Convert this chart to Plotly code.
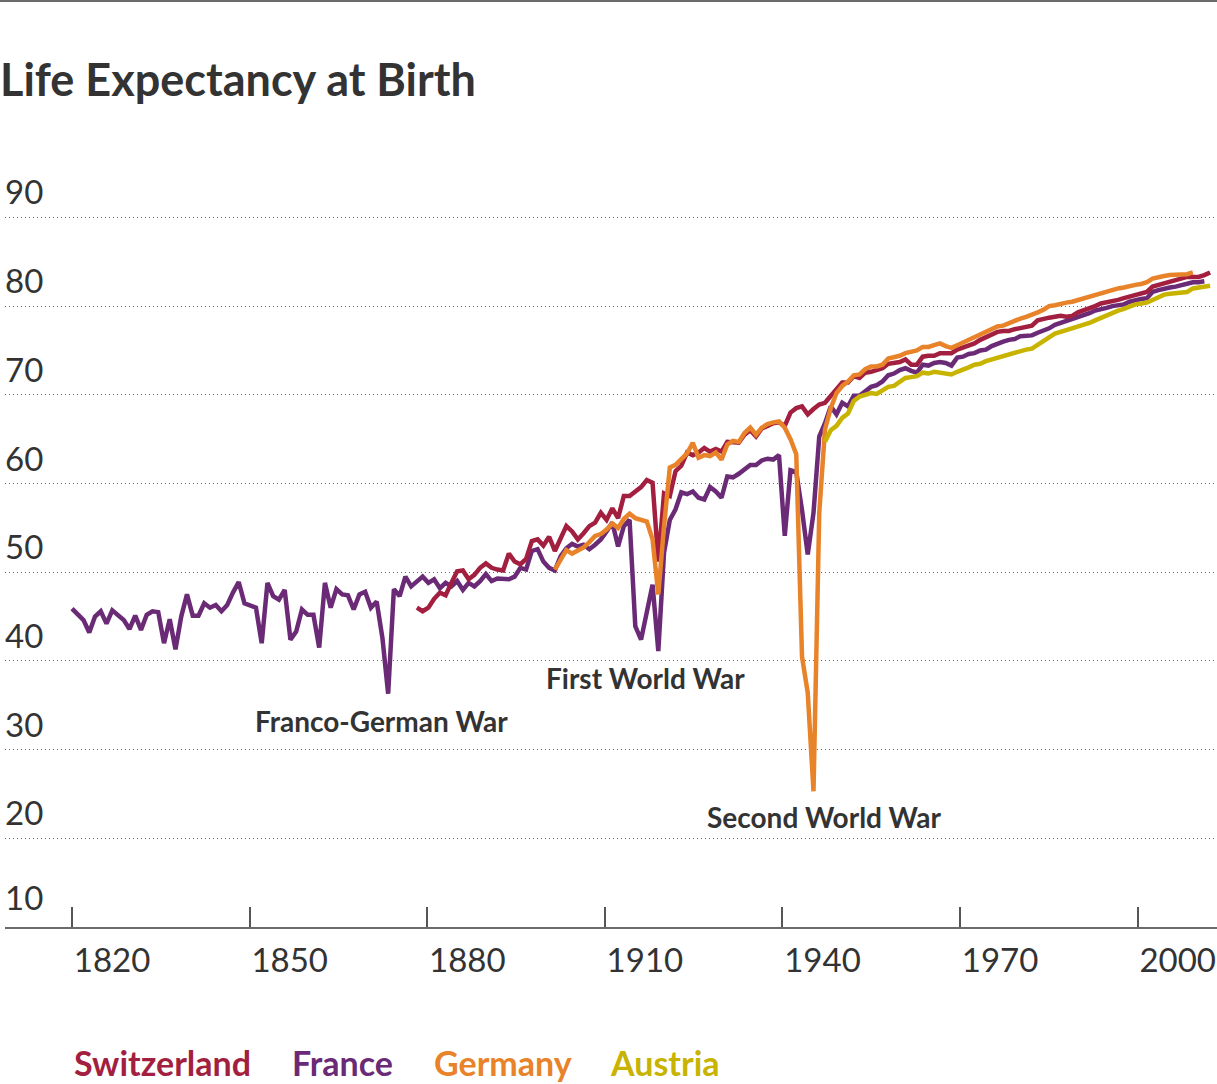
import plotly.graph_objects as go

# ---------------- data (life expectancy at birth, years) ----------------
FRANCE_START = 1816
FRANCE = [
    45.9, 45.2, 44.6, 43.2, 45.0, 45.6, 44.2, 45.7, 45.1, 44.6,
    43.6, 45.1, 43.5, 45.2, 45.6, 45.5, 42.0, 44.7, 41.3, 45.0,
    47.5, 45.1, 45.1, 46.5, 46.0, 46.3, 45.6, 46.3, 47.7, 48.9,
    46.5, 46.3, 46.0, 42.0, 48.8, 47.3, 46.9, 48.0, 42.4, 43.3,
    45.8, 45.2, 45.2, 41.5, 48.8, 46.0, 48.1, 47.5, 47.4, 45.8,
    47.5, 47.8, 46.0, 46.7, 42.6, 36.3, 48.1, 47.3, 49.5, 48.4,
    49.0, 49.5, 48.8, 49.2, 48.2, 48.8, 48.4, 49.0, 48.0, 48.8,
    48.4, 49.0, 49.8, 49.0, 49.3, 49.2, 49.2, 49.5, 50.5, 50.3,
    52.4, 52.6, 51.2, 50.5, 50.2, 51.8, 52.7, 53.2, 52.9, 53.1,
    52.6, 53.1, 53.7, 54.6, 55.6, 52.9, 55.2, 55.9, 43.9, 42.4,
    45.4, 48.6, 41.1, 52.2, 55.9, 57.1, 59.0, 58.8, 59.1, 58.4,
    58.2, 59.6, 59.1, 58.4, 60.8, 60.7, 61.1, 61.6, 62.1, 62.1,
    62.6, 62.8, 62.7, 63.2, 54.1, 61.5, 61.3, 57.0, 52.0, 56.7,
    65.3, 66.8, 68.7, 67.8, 69.1, 68.7, 69.9, 69.9, 70.4, 70.9,
    71.1, 71.5, 72.2, 72.4, 72.8, 73.0, 72.7, 72.5, 73.4, 73.3,
    73.6, 73.7, 73.6, 73.3, 74.2, 74.3, 74.6, 74.7, 75.0, 75.1,
    75.5, 75.8, 76.0, 76.2, 76.3, 76.6, 76.6, 76.7, 77.0, 77.2,
    77.5, 77.9, 78.1, 78.3, 78.5, 78.8, 79.0, 79.2, 79.5, 79.6,
    79.8, 80.0, 80.1, 80.2, 80.5, 80.7, 80.8, 80.9, 81.6, 81.8,
    82.0, 82.1, 82.2, 82.4, 82.6, 82.7, 82.7, 82.8,
]

SWITZERLAND_START = 1876
SWITZERLAND = [
    46.0, 45.6, 46.0, 47.0, 47.7, 47.4, 48.8, 50.1, 50.2, 49.2,
    49.7, 50.5, 51.0, 50.5, 50.3, 50.2, 52.1, 51.2, 50.9, 51.5,
    53.5, 53.7, 53.0, 54.0, 52.4, 53.9, 55.2, 54.6, 53.7, 54.4,
    55.2, 55.6, 56.7, 55.9, 57.2, 56.1, 58.6, 58.6, 59.1, 59.6,
    60.4, 60.1, 51.2, 58.9, 58.6, 61.4, 62.0, 63.5, 63.2, 63.5,
    64.0, 63.6, 63.9, 63.6, 64.7, 64.7, 64.6, 65.5, 66.0, 65.3,
    66.2, 66.5, 66.8, 66.9, 66.5, 68.0, 68.5, 68.7, 67.8, 68.4,
    68.9, 69.1, 69.9, 70.6, 71.4, 71.4, 72.1, 71.9, 72.5, 72.6,
    72.8, 73.0, 73.5, 73.6, 73.7, 74.0, 73.4, 73.4, 74.3, 74.4,
    74.4, 74.7, 74.7, 74.7, 75.1, 75.3, 75.5, 75.8, 76.2, 76.5,
    76.8, 77.1, 77.2, 77.2, 77.4, 77.5, 77.6, 77.8, 78.4, 78.6,
    78.7, 78.8, 78.9, 78.8, 78.9, 79.3, 79.5, 79.8, 80.0, 80.3,
    80.4, 80.6, 80.7, 80.9, 81.1, 81.3, 81.5, 81.6, 82.2, 82.4,
    82.6, 82.7, 82.9, 83.1, 83.3, 83.3, 83.3, 83.5, 83.8,
]

GERMANY_START = 1900
GERMANY = [
    50.3, 51.4, 52.5, 52.1, 52.5, 52.8, 53.4, 54.1, 54.3, 54.8,
    55.5, 55.0, 56.0, 56.6, 56.1, 55.9, 55.7, 53.7, 47.5, 55.2,
    61.8, 62.1, 62.7, 63.4, 64.6, 62.9, 63.2, 63.1, 63.5, 62.7,
    64.4, 64.8, 64.7, 65.7, 66.3, 65.5, 66.3, 66.7, 66.9, 67.0,
    66.3, 65.0, 63.3, 40.5, 36.4, 25.3, 56.7, 66.1, 68.5, 70.2,
    71.0, 71.5, 72.2, 72.3, 72.9, 73.2, 73.2, 73.4, 74.1, 74.2,
    74.4, 74.7, 74.8, 75.0, 75.4, 75.4, 75.6, 75.8, 75.5, 75.3,
    75.6, 75.9, 76.2, 76.4, 76.8, 77.0, 77.3, 77.7, 77.8, 78.1,
    78.3, 78.6, 78.8, 79.0, 79.3, 79.6, 80.0, 80.1, 80.3, 80.4,
    80.5, 80.7, 80.9, 81.1, 81.3, 81.4, 81.6, 81.8, 82.0, 82.1,
    82.3, 82.4, 82.5, 82.7, 83.1, 83.3, 83.4, 83.5, 83.5, 83.5,
    83.6, 83.8,
]

AUSTRIA_START = 1947
AUSTRIA = [
    64.7, 66.0, 66.5, 67.4, 67.9, 69.3, 69.8, 70.0, 70.2, 70.1,
    70.5, 70.9, 71.0, 71.5, 71.9, 72.0, 72.1, 72.5, 72.4, 72.6,
    72.5, 72.3, 72.3, 72.6, 72.8, 73.1, 73.4, 73.5, 73.8, 74.0,
    74.2, 74.3, 74.5, 74.8, 75.0, 75.1, 75.2, 75.6, 76.0, 76.5,
    76.9, 77.1, 77.3, 77.5, 77.6, 77.9, 78.1, 78.4, 78.7, 79.0,
    79.3, 79.5, 79.7, 80.0, 80.2, 80.3, 80.4, 80.7, 81.0, 81.3,
    81.4, 81.5, 81.5, 81.6, 82.0, 82.1, 82.2, 82.3,
]

LEGEND_ORDER = ["Switzerland", "France", "Germany", "Austria"]
DRAW_ORDER = ["France", "Switzerland", "Germany", "Austria"]
COLORS = {
    "Switzerland": "#a31f3f",
    "France": "#6b2a76",
    "Germany": "#e8832a",
    "Austria": "#c8b400",
}

# axis ticks as drawn in the original graphic
X_TICK_POS = [1816.0, 1846.9, 1877.8, 1908.7, 1939.6, 1970.5, 2001.4]
X_TICK_TEXT = ["1820", "1850", "1880", "1910", "1940", "1970", "2000"]
Y_TICKS = [10, 20, 30, 40, 50, 60, 70, 80, 90]
Y_TICK_TEXT = ["10", "20", "30", "40", "50", "60", "70", "80", "90"]

EVENTS = [
    ("Franco-German War", 1869.9, 33.2),
    ("First World War", 1915.7, 38.1),
    ("Second World War", 1947.0, 22.4),
]

TITLE = "Life Expectancy at Birth"
FONT = "Lato, 'Open Sans', sans-serif"

series = {
    "France": (FRANCE_START, FRANCE),
    "Switzerland": (SWITZERLAND_START, SWITZERLAND),
    "Germany": (GERMANY_START, GERMANY),
    "Austria": (AUSTRIA_START, AUSTRIA),
}

fig = go.Figure()
for name in DRAW_ORDER:
    start, vals = series[name]
    years = list(range(start, start + len(vals)))
    fig.add_trace(go.Scatter(
        x=years, y=vals, mode="lines", name=name,
        line=dict(color=COLORS[name], width=4.5, shape="linear"),
        showlegend=False, hoverinfo="x+y+name",
    ))

W, H = 1217, 1084
ML, MR, MT, MB = 5, 0, 170, 157
plot_h = H - MT - MB
plot_w = W - ML - MR

fig.update_layout(
    width=W, height=H, autosize=False,
    margin=dict(l=ML, r=MR, t=MT, b=MB, pad=0),
    paper_bgcolor="white", plot_bgcolor="white",
    font=dict(family=FONT, color="#333333"),
    title=dict(
        text="<b>" + TITLE + "</b>",
        x=0.0, xref="container", xanchor="left",
        y=1 - 80 / H, yref="container", yanchor="middle",
        font=dict(size=45, color="#333333", family=FONT),
    ),
)

fig.update_xaxes(
    range=[1804.34, 2015.2],
    showgrid=False, zeroline=False,
    showline=True, linecolor="#6a6a6a", linewidth=2,
    ticks="inside", ticklen=20, tickwidth=1.5, tickcolor="#555555",
    tickvals=X_TICK_POS, ticktext=X_TICK_TEXT,
    ticklabelposition="outside right", ticklabelstandoff=3,
    tickfont=dict(size=33, color="#333333", family=FONT),
    fixedrange=True,
)
fig.update_yaxes(
    range=[10, 95.35],
    tickvals=Y_TICKS,
    showgrid=True, gridcolor="#666666", gridwidth=1, griddash="1px,3px",
    zeroline=False, showline=False, ticks="", showticklabels=False,
    fixedrange=True,
)

# y value labels sitting just above their gridlines
for val, txt in zip(Y_TICKS, Y_TICK_TEXT):
    fig.add_annotation(
        x=0, y=val, xref="paper", yref="y", text=txt,
        showarrow=False, xanchor="left", yanchor="bottom",
        xshift=-2, yshift=4 if val != 10 else 8,
        font=dict(size=33, color="#333333", family=FONT),
    )

# event labels
for text, xv, yv in EVENTS:
    fig.add_annotation(
        x=xv, y=yv, xref="x", yref="y", text="<b>" + text + "</b>",
        showarrow=False, xanchor="center", yanchor="middle",
        font=dict(size=28, color="#333333", family=FONT),
    )

# colored text legend
LEGEND_X_PX = [72, 290, 432, 608]
for name, px in zip(LEGEND_ORDER, LEGEND_X_PX):
    fig.add_annotation(
        x=(px - ML) / plot_w, y=(H - MB - 1062) / plot_h,
        xref="paper", yref="paper", text="<b>" + name + "</b>",
        showarrow=False, xanchor="left", yanchor="middle",
        font=dict(size=34, color=COLORS[name], family=FONT),
    )

# thin rule across the very top
fig.add_shape(
    type="line", xref="paper", yref="paper",
    x0=-ML / plot_w, x1=1, y0=(H - MB - 1) / plot_h, y1=(H - MB - 1) / plot_h,
    line=dict(color="#6a6a6a", width=2),
)

fig.write_html(
    "out.html",
    config={"displayModeBar": False},
    post_script="document.body.style.margin='0';document.body.style.overflow='hidden';",
)
